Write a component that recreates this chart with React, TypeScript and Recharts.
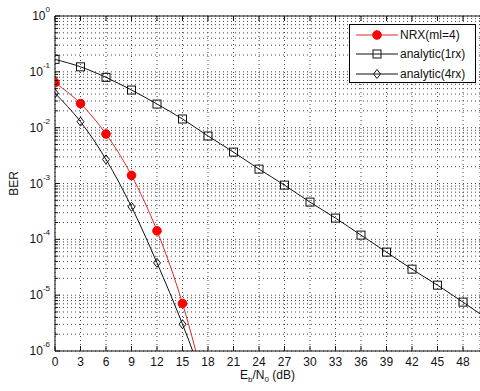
import { CartesianGrid, Label, Legend, Line, LineChart, XAxis, YAxis } from "recharts";

const snrDb = [0, 3, 6, 9, 12, 15, 18, 21, 24, 27, 30, 33, 36, 39, 42, 45, 48, 51];
const berNrx = [0.064, 0.027, 0.0077, 0.0014, 0.000142, 0.0000071, 0.00000014];
const berAnalytic1rx = [
  0.167, 0.123, 0.0796, 0.0472, 0.0265, 0.0143, 0.0071, 0.00365, 0.00181, 0.000935, 0.000464, 0.00024,
  0.000119, 0.000059, 0.0000292, 0.0000151, 0.0000075, 0.00000365,
];
const berAnalytic4rx = [0.0412, 0.0128, 0.0027, 0.000382, 0.0000379, 0.00000302, 0.00000018];

const xTicks = [0, 3, 6, 9, 12, 15, 18, 21, 24, 27, 30, 33, 36, 39, 42, 45, 48];
const decades = [1e-6, 1e-5, 1e-4, 1e-3, 1e-2, 1e-1, 1];
const mantissas = [1, 2, 3, 4, 5, 6, 7, 8, 9];
const yTicks = decades.slice(0, -1).flatMap((d) => mantissas.map((m) => m * d)).concat([1]);

const rows = snrDb.map((snr, i) => ({
  snr,
  nrx: berNrx[i] ?? null,
  a1: berAnalytic1rx[i] ?? null,
  a4: berAnalytic4rx[i] ?? null,
}));

const FONT = "'Liberation Sans', Arial, Helvetica, sans-serif";
const RED = "#ff0000";
const RED_LINE = "#e02828";
const INK = "#111";

function Marker({ kind, cx, cy }: { kind: string; cx: number; cy: number }) {
  if (kind === "circle") return <circle cx={cx} cy={cy} r={4.3} fill={RED} stroke={RED} />;
  if (kind === "square")
    return <rect x={cx - 4} y={cy - 4} width={8} height={8} fill="none" stroke={INK} />;
  return (
    <path
      d={`M${cx},${cy - 4.5}L${cx + 3.5},${cy}L${cx},${cy + 4.5}L${cx - 3.5},${cy}Z`}
      fill="none"
      stroke={INK}
    />
  );
}

const makeDot = (kind: string) => (p: any) => {
  const key = `${kind}-${p.index}`;
  if (p.cx == null || p.cy == null || p.value == null) return <g key={key} />;
  return (
    <g key={key}>
      <Marker kind={kind} cx={p.cx} cy={p.cy} />
    </g>
  );
};

function YTick(props: any) {
  const { x, y, payload } = props;
  const v = payload.value;
  const major = decades.includes(v);
  const exp = Math.round(Math.log10(v));
  return (
    <g>
      <line x1={x} x2={x + (major ? 5 : 3)} y1={y} y2={y} stroke={INK} />
      {major && (
        <text x={x - 5} y={y + 4} textAnchor="end" fontSize={12} fontFamily={FONT} fill={INK}>
          10
          <tspan dy={-8} fontSize={8}>
            {exp}
          </tspan>
        </text>
      )}
    </g>
  );
}

function XTick(props: any) {
  const { x, y, payload } = props;
  return (
    <g>
      <line x1={x} x2={x} y1={y} y2={y - 5} stroke={INK} />
      <text x={x} y={y + 15} textAnchor="middle" fontSize={12} fontFamily={FONT} fill={INK}>
        {payload.value}
      </text>
    </g>
  );
}

function TopTick(props: any) {
  const { x, y } = props;
  return <line x1={x} x2={x} y1={y} y2={y + 5} stroke={INK} />;
}

const legendItems = [
  { label: "NRX(ml=4)", kind: "circle", color: RED_LINE },
  { label: "analytic(1rx)", kind: "square", color: INK },
  { label: "analytic(4rx)", kind: "diamond", color: INK },
];
const legendRowTops = [3, 22, 42];

function renderLegend() {
  return (
    <div
      style={{
        position: "relative",
        width: 125,
        height: 57,
        border: "1px solid #000",
        background: "#fff",
        fontFamily: FONT,
        fontSize: 12,
        color: INK,
      }}
    >
      {legendItems.map((it, i) => (
        <div
          key={it.label}
          style={{ position: "absolute", left: 0, top: legendRowTops[i], height: 14, display: "flex", alignItems: "center" }}
        >
          <svg width={50} height={14} style={{ display: "block" }}>
            <line x1={6} x2={48} y1={7} y2={7} stroke={it.color} />
            <Marker kind={it.kind} cx={27} cy={7} />
          </svg>
          <span style={{ whiteSpace: "nowrap" }}>{it.label}</span>
        </div>
      ))}
    </div>
  );
}

function XLabel(props: any) {
  const vb = props.viewBox;
  const cx = vb.x + vb.width / 2;
  const y = vb.y + 28;
  return (
    <text x={cx} y={y} textAnchor="middle" fontSize={12} fontFamily={FONT} fill={INK}>
      E
      <tspan dy={3} fontSize={8}>b</tspan>
      <tspan dy={-3}>/N</tspan>
      <tspan dy={3} fontSize={8}>0</tspan>
      <tspan dy={-3}> (dB)</tspan>
    </text>
  );
}

function YLabel(props: any) {
  const vb = props.viewBox;
  const cy = vb.y + vb.height / 2;
  return (
    <text
      x={18}
      y={cy}
      transform={`rotate(-90, 18, ${cy})`}
      textAnchor="middle"
      fontSize={12}
      fontFamily={FONT}
      fill={INK}
    >
      BER
    </text>
  );
}

export default function App() {
  return (
    <div style={{ position: "absolute", left: 0, top: 0, width: 480, height: 391, background: "#fff" }}>
      <LineChart width={480} height={391} data={rows} margin={{ top: 0, right: 0, bottom: 0, left: 0 }}>
        <CartesianGrid stroke="#444" strokeDasharray="1 3" />
        <XAxis
          dataKey="snr"
          type="number"
          domain={[0, 50]}
          ticks={xTicks}
          allowDataOverflow
          height={40}
          stroke={INK}
          tickSize={0}
          tickMargin={0}
          tick={<XTick />}
          interval={0}
        >
          <Label content={<XLabel />} />
        </XAxis>
        <XAxis
          xAxisId="top"
          orientation="top"
          dataKey="snr"
          type="number"
          domain={[0, 50]}
          ticks={xTicks}
          allowDataOverflow
          height={16}
          stroke={INK}
          tickSize={0}
          tickMargin={0}
          tick={<TopTick />}
          interval={0}
        />
        <YAxis
          scale="log"
          domain={[1e-6, 1]}
          ticks={yTicks}
          allowDataOverflow
          width={55}
          stroke={INK}
          tickSize={0}
          tickMargin={0}
          tick={<YTick />}
          interval={0}
        >
          <Label content={<YLabel />} />
        </YAxis>
        <Legend
          layout="vertical"
          align="center"
          verticalAlign="middle"
          wrapperStyle={{ left: 349, top: 24, width: 127, height: 59 }}
          content={renderLegend}
        />
        <Line
          dataKey="a1"
          type="monotone"
          stroke={INK}
          strokeWidth={1}
          dot={makeDot("square")}
          activeDot={false}
          isAnimationActive={false}
        />
        <Line
          dataKey="a4"
          type="monotone"
          stroke={INK}
          strokeWidth={1}
          dot={makeDot("diamond")}
          activeDot={false}
          isAnimationActive={false}
        />
        <Line
          dataKey="nrx"
          type="monotone"
          stroke={RED_LINE}
          strokeWidth={1}
          dot={makeDot("circle")}
          activeDot={false}
          isAnimationActive={false}
        />
      </LineChart>
    </div>
  );
}
